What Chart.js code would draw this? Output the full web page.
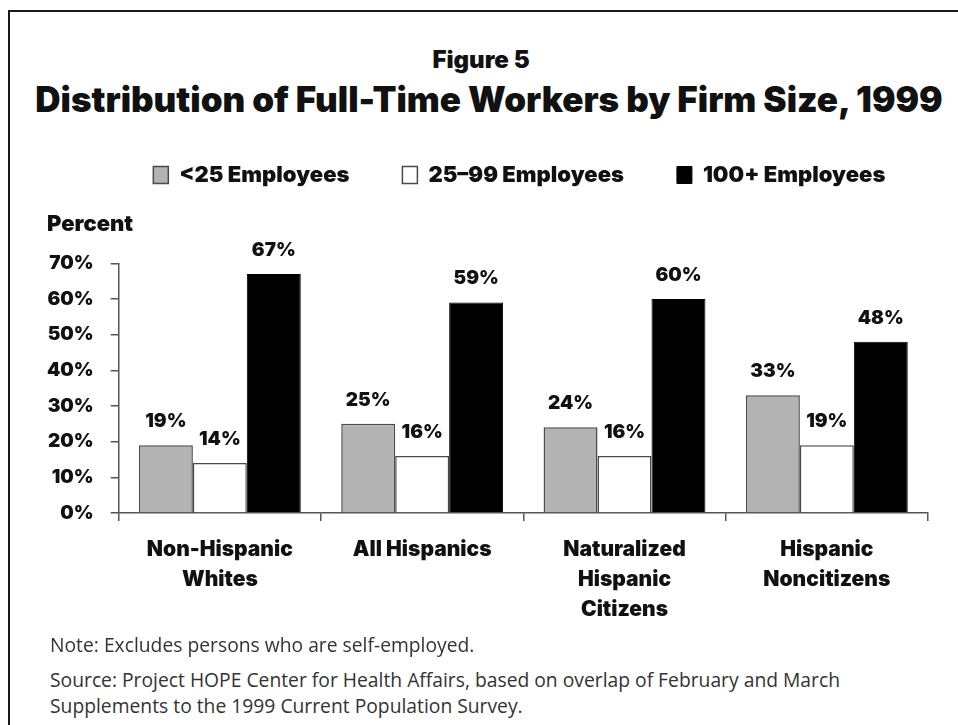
<!DOCTYPE html>
<html>
<head>
<meta charset="utf-8">
<title>Figure 5</title>
<script src="https://cdn.jsdelivr.net/npm/chart.js"></script>
<style>
  body { margin: 0; background: #fff; width: 958px; height: 725px; overflow: hidden; position: relative; }
  .frame { position: absolute; left: 8px; top: 10px; width: 950px; height: 715px;
           border-top: 2px solid #1a1a1a; border-left: 2px solid #1a1a1a; }
  .fig { position: absolute; left: 0; width: 958px; text-align: center; color: #111;
         font-family: Inter, sans-serif; font-weight: 900; margin: 0; }
  #figNo { top: 45px; font-size: 24px; left: 2px; }
  #heading { top: 78px; font-size: 35px; left: 10px; }
  #wrap { position: absolute; left: 0; top: 111px; width: 958px; height: 535px; }
  .notes { position: absolute; left: 50px; color: #333; font-family: "Open Sans", sans-serif;
           font-size: 19.3px; line-height: 26px; margin: 0; }
  #note { top: 632px; }
  #source { top: 667px; }
</style>
</head>
<body>
<div class="frame"></div>
<h2 class="fig" id="figNo">Figure 5</h2>
<h1 class="fig" id="heading">Distribution of Full-Time Workers by Firm Size, 1999</h1>
<div id="wrap"><canvas id="firmChart" width="958" height="535"></canvas></div>
<p class="notes" id="note">Note: Excludes persons who are self-employed.</p>
<p class="notes" id="source">Source: Project HOPE Center for Health Affairs, based on overlap of February and March<br>Supplements to the 1999 Current Population Survey.</p>

<script>
// groups of workers (multi-line axis labels)
const groups = [
    ['Non-Hispanic', 'Whites'],
    ['All Hispanics'],
    ['Naturalized', 'Hispanic', 'Citizens'],
    ['Hispanic', 'Noncitizens']
];
const seriesNames = ['<25 Employees', '25\u201399 Employees', '100+ Employees'];

// percent of full-time workers by firm size
const small = [19, 25, 24, 33];
const medium = [14, 16, 16, 19];
const large = [67, 59, 60, 48];

const yMax = 70;
const yStep = 10;

const heavy = { family: 'Inter, sans-serif', weight: 900 };

// percent labels above each bar
const valueLabels = {
    id: 'valueLabels',
    afterDatasetsDraw(chart) {
        const ctx = chart.ctx;
        ctx.save();
        ctx.font = '900 19px Inter, sans-serif';
        ctx.fillStyle = '#111';
        ctx.textAlign = 'center';
        ctx.textBaseline = 'middle';
        chart.data.datasets.forEach((ds, i) => {
            chart.getDatasetMeta(i).data.forEach((bar, j) => {
                ctx.fillText(ds.data[j] + '%', bar.x, bar.y - 24);
            });
        });
        ctx.restore();
    }
};

// centre the legend over the plot, and line "Percent" up with the tick labels
const placeHeaders = {
    id: 'placeHeaders',
    afterLayout(chart) {
        const area = chart.chartArea;
        const lg = chart.legend;
        if (lg) {
            const shift = (area.left + area.right) / 2 - (lg.left + lg.right) / 2 - 4;
            lg.left += shift;
            lg.right += shift;
        }
        const sub = chart.boxes.find(b => b.options && b.options.text === 'Percent');
        if (sub) {
            const y = chart.scales.y;
            const ctx = chart.ctx;
            ctx.save();
            ctx.font = '900 19px Inter, sans-serif';
            const widest = Math.max(...y.ticks.map(t => ctx.measureText(t.label).width));
            ctx.restore();
            const w = sub.right - sub.left;
            sub.left = y.right - y.options.grid.tickLength - y.options.ticks.padding - widest;
            sub.right = sub.left + w;
        }
    }
};

new Chart(document.getElementById('firmChart'), {
    type: 'bar',
    data: {
        labels: groups,
        datasets: [
            {
                label: seriesNames[0],
                data: small,
                backgroundColor: '#b3b3b3',
                borderColor: '#4a4a4a',
                borderWidth: 1.5
            },
            {
                label: seriesNames[1],
                data: medium,
                backgroundColor: '#ffffff',
                borderColor: '#4a4a4a',
                borderWidth: 1.5
            },
            {
                label: seriesNames[2],
                data: large,
                backgroundColor: '#000000',
                borderColor: '#000000',
                borderWidth: 1
            }
        ]
    },
    options: {
        responsive: false,
        animation: false,
        categoryPercentage: 0.8,
        barPercentage: 1.0,
        layout: { padding: { left: 30, right: 30, top: 0, bottom: 7 } },
        scales: {
            x: {
                offset: true,
                border: { color: '#555', width: 1.5 },
                grid: { offset: true, drawOnChartArea: false, tickLength: 8, color: '#555', lineWidth: 1.5 },
                ticks: {
                    color: '#111',
                    padding: 14,
                    font: { ...heavy, size: 21, lineHeight: 1.43 }
                }
            },
            y: {
                min: 0,
                max: yMax,
                border: { color: '#555', width: 1.5 },
                grid: { drawOnChartArea: false, tickLength: 8, color: '#555', lineWidth: 1.5 },
                ticks: {
                    stepSize: yStep,
                    color: '#111',
                    padding: 17,
                    font: { ...heavy, size: 19 },
                    callback: v => v + '%'
                }
            }
        },
        plugins: {
            legend: {
                position: 'top',
                labels: {
                    boxWidth: 15,
                    boxHeight: 17,
                    padding: 53,
                    color: '#111',
                    font: { ...heavy, size: 22 }
                }
            },
            subtitle: {
                display: true,
                text: 'Percent',
                align: 'start',
                weight: 500,
                color: '#111',
                font: { ...heavy, size: 22 },
                padding: { top: 15, bottom: 26 }
            },
            tooltip: { enabled: false }
        }
    },
    plugins: [valueLabels, placeHeaders]
});
</script>
</body>
</html>
